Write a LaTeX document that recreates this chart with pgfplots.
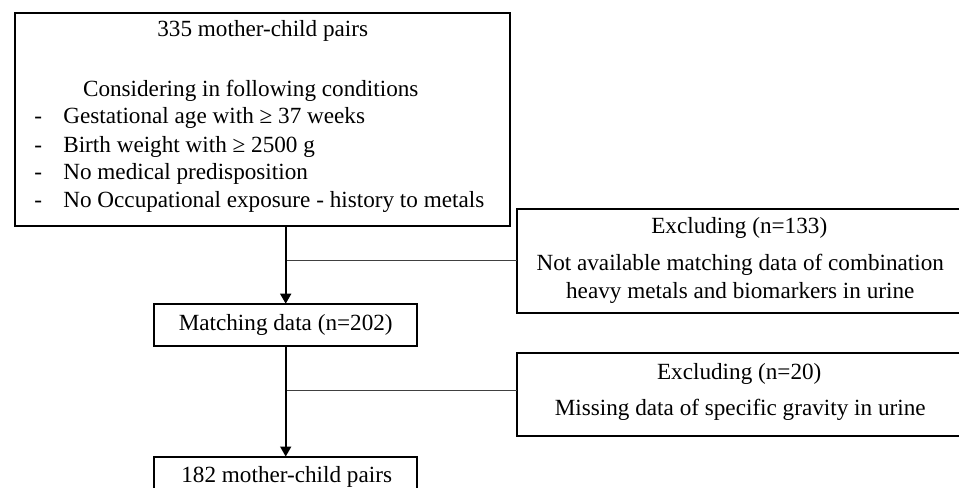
\documentclass[border=0pt]{standalone}
\usepackage{fontspec}
\setmainfont{Liberation Serif}
\usepackage{pgfplots}
\pgfplotsset{compat=1.18}
\usetikzlibrary{arrows.meta}
\newcommand{\ft}{\fontsize{11.6pt}{14pt}\selectfont}
\begin{document}
\ft
\begin{tikzpicture}[font=\ft]
\begin{axis}[width=480pt,height=244pt,scale only axis,
  xmin=0,xmax=960,ymin=0,ymax=488,y dir=reverse,hide axis,clip=false]
\addplot[draw=none,mark=none,forget plot] coordinates {(0,0) (960,488)};
% main boxes
\addplot[black, line width=1pt, mark=none, line join=miter] coordinates {(263,13) (511,13) (511,226) (15,226) (15,13) (263,13)};
\addplot[black, line width=1pt, mark=none, line join=miter] coordinates {(286,304) (417,304) (417,346) (154,346) (154,304) (286,304)};
\addplot[black, line width=1pt, mark=none, line join=miter] coordinates {(154,488) (154,457) (417,457) (417,488)};
% exclusion boxes (open on the right, cut by the picture edge)
\addplot[black, line width=1pt, mark=none, line join=miter] coordinates {(960,209) (518,209) (518,313) (960,313)};
\addplot[black, line width=1pt, mark=none, line join=miter] coordinates {(960,353) (518,353) (518,436) (960,436)};
% connectors
\addplot[black!75, line width=0.75pt, mark=none] coordinates {(286,261) (518,261)};
\addplot[black!75, line width=0.75pt, mark=none] coordinates {(286,391) (518,391)};
\addplot[black, line width=0.8pt, mark=none, -{Triangle[width=5.5pt,length=5pt]}] coordinates {(286,226) (286,304)};
\addplot[black, line width=0.8pt, mark=none, -{Triangle[width=5.5pt,length=5pt]}] coordinates {(286,346) (286,457)};
% texts
\node[font=\ft,inner sep=0pt,anchor=base] at (axis cs:263,37) {335 mother-child pairs};
\node[font=\ft,inner sep=0pt,anchor=base] at (axis cs:251,97) {Considering in following conditions};
\node[font=\ft,inner sep=0pt,anchor=base west] at (axis cs:34,124) {-};
\node[font=\ft,inner sep=0pt,anchor=base west] at (axis cs:34,153) {-};
\node[font=\ft,inner sep=0pt,anchor=base west] at (axis cs:34,180) {-};
\node[font=\ft,inner sep=0pt,anchor=base west] at (axis cs:34,208) {-};
\node[font=\ft,inner sep=0pt,anchor=base west] at (axis cs:63,124) {Gestational age with ≥ 37 weeks};
\node[font=\ft,inner sep=0pt,anchor=base west] at (axis cs:63,153) {Birth weight with ≥ 2500 g};
\node[font=\ft,inner sep=0pt,anchor=base west] at (axis cs:63,180) {No medical predisposition};
\node[font=\ft,inner sep=0pt,anchor=base west] at (axis cs:63,208) {No Occupational exposure - history to metals};
\node[font=\ft,inner sep=0pt,anchor=base] at (axis cs:740,234) {Excluding (n=133)};
\node[font=\ft,inner sep=0pt,anchor=base] at (axis cs:741,271) {Not available matching data of combination};
\node[font=\ft,inner sep=0pt,anchor=base] at (axis cs:741,299) {heavy metals and biomarkers in urine};
\node[font=\ft,inner sep=0pt,anchor=base] at (axis cs:286,331) {Matching data (n=202)};
\node[font=\ft,inner sep=0pt,anchor=base] at (axis cs:740,380) {Excluding (n=20)};
\node[font=\ft,inner sep=0pt,anchor=base] at (axis cs:741,416) {Missing data of specific gravity in urine};
\node[font=\ft,inner sep=0pt,anchor=base] at (axis cs:287,483) {182 mother-child pairs};
\end{axis}
\end{tikzpicture}
\end{document}
